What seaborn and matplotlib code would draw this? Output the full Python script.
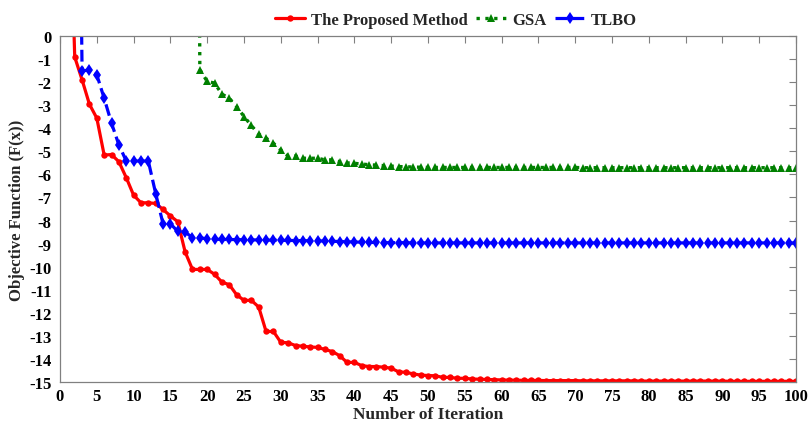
import numpy as np
import pandas as pd
import matplotlib
matplotlib.use("Agg")
import matplotlib.pyplot as plt
import seaborn as sns

# iteration axis
iterations = list(range(1, 101))

# values (off-scale start values are clipped by ylim)
proposed = [10.0, -0.91, -1.90, -2.96, -3.56, -5.16, -5.14, -5.45, -6.14, -6.90,
            -7.23, -7.23, -7.26, -7.52, -7.80, -8.05, -9.36, -10.12, -10.12, -10.12,
            -10.33, -10.67, -10.78, -11.22, -11.46, -11.46, -11.75, -12.81, -12.81, -13.28,
            -13.30, -13.42, -13.45, -13.48, -13.50, -13.59, -13.68, -13.86, -14.15, -14.15,
            -14.29, -14.33, -14.33, -14.36, -14.40, -14.56, -14.58, -14.65, -14.70, -14.72,
            -14.73, -14.80, -14.80, -14.84, -14.84, -14.87, -14.88, -14.89, -14.90, -14.91,
            -14.92, -14.92, -14.93, -14.93, -14.93, -14.94, -14.94, -14.94, -14.94, -14.94,
            -14.95, -14.95, -14.95, -14.95, -14.95, -14.95, -14.95, -14.95, -14.96, -14.96,
            -14.96, -14.96, -14.96, -14.96, -14.96, -14.96, -14.96, -14.96, -14.96, -14.96,
            -14.97, -14.97, -14.97, -14.97, -14.97, -14.97, -14.97, -14.97, -14.97, -14.97]

gsa = [60.0, 60.0, 60.0, 60.0, 60.0, 60.0, 60.0, 60.0, 60.0, 60.0,
       60.0, 60.0, 60.0, 60.0, 60.0, 60.0, 60.0, 60.0, -1.46, -1.97,
       -2.04, -2.52, -2.70, -3.06, -3.49, -3.88, -4.26, -4.43, -4.65, -4.94,
       -5.20, -5.20, -5.30, -5.30, -5.30, -5.37, -5.37, -5.45, -5.50, -5.52,
       -5.55, -5.58, -5.60, -5.62, -5.64, -5.66, -5.67, -5.68, -5.69, -5.70,
       -5.70, -5.70, -5.70, -5.70, -5.70, -5.70, -5.70, -5.70, -5.70, -5.70,
       -5.70, -5.70, -5.70, -5.70, -5.70, -5.70, -5.70, -5.70, -5.70, -5.70,
       -5.71, -5.71, -5.71, -5.71, -5.71, -5.71, -5.71, -5.71, -5.71, -5.71,
       -5.71, -5.71, -5.71, -5.71, -5.71, -5.71, -5.71, -5.71, -5.71, -5.71,
       -5.71, -5.71, -5.71, -5.71, -5.71, -5.71, -5.71, -5.71, -5.71, -5.71]

tlbo = [25.0, 25.0, -1.50, -1.49, -1.68, -2.70, -3.78, -4.72, -5.42, -5.42,
        -5.42, -5.42, -6.83, -8.14, -8.14, -8.47, -8.50, -8.74, -8.74, -8.80,
        -8.81, -8.82, -8.82, -8.83, -8.83, -8.84, -8.84, -8.85, -8.85, -8.86,
        -8.86, -8.87, -8.87, -8.88, -8.88, -8.89, -8.90, -8.91, -8.92, -8.93,
        -8.94, -8.95, -8.95, -8.96, -8.96, -8.96, -8.96, -8.97, -8.97, -8.97,
        -8.97, -8.97, -8.97, -8.97, -8.97, -8.97, -8.97, -8.97, -8.97, -8.97,
        -8.97, -8.97, -8.97, -8.97, -8.97, -8.97, -8.97, -8.97, -8.97, -8.97,
        -8.97, -8.97, -8.97, -8.97, -8.97, -8.97, -8.97, -8.97, -8.97, -8.97,
        -8.97, -8.97, -8.97, -8.97, -8.97, -8.97, -8.97, -8.97, -8.97, -8.97,
        -8.97, -8.97, -8.97, -8.97, -8.97, -8.97, -8.97, -8.97, -8.97, -8.97]

series_names = ["The Proposed Method", "GSA", "TLBO"]
xticks = list(range(0, 101, 5))
yticks = list(range(-15, 1))

sns.set_theme(style="white")
plt.rcParams["font.family"] = ["Liberation Serif", "DejaVu Serif"]
plt.rcParams["font.weight"] = "bold"

fig = plt.figure(figsize=(8.09, 4.27), dpi=100)
ax = fig.add_axes([60 / 809, 1 - 383 / 427, (796 - 60) / 809, (383 - 37) / 427])

sns.lineplot(x=iterations, y=proposed, ax=ax, color="#ff0000", lw=2.3,
             marker="o", markersize=4.6, markeredgewidth=0, label=series_names[0])
sns.lineplot(x=iterations, y=gsa, ax=ax, color="#008000", lw=2.4, ls=":",
             marker="^", markersize=6, markeredgewidth=0, label=series_names[1])
sns.lineplot(x=iterations, y=tlbo, ax=ax, color="#0000ff", lw=2.3, ls="--",
             marker="d", markersize=6, markeredgewidth=0, label=series_names[2])

ax.set_xlim(0, 100)
ax.set_ylim(-15, 0)
ax.set_xticks(xticks)
ax.set_yticks(yticks)
ax.set_xticklabels([str(t) for t in xticks], fontsize=12, fontweight="bold")
ax.set_yticklabels([str(t) for t in yticks], fontsize=12, fontweight="bold")
ax.tick_params(axis="y", pad=6)
ax.tick_params(axis="x", pad=4)
ax.tick_params(direction="in", length=5, width=0.8, top=True, right=True,
               color="#808080", labelcolor="black")
for sp in ax.spines.values():
    sp.set_color("#808080")
    sp.set_linewidth(0.9)

ax.set_xlabel("Number of Iteration", fontsize=12.5, fontweight="bold", labelpad=2)
ax.set_ylabel("Objective Function (F(x))", fontsize=12, fontweight="bold", labelpad=3)

leg = ax.legend(loc="center", bbox_to_anchor=(0.538, 1 + 16 / 346), ncol=3,
                frameon=False, prop={"size": 12, "weight": "bold"},
                handlelength=1.8, handletextpad=0.35, columnspacing=0.5,
                borderaxespad=0)

fig.savefig("out.png", dpi=100)
